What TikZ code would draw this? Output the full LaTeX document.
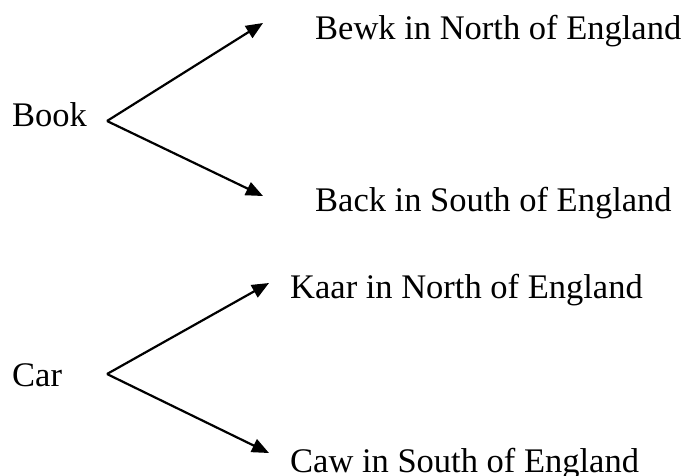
\documentclass[tikz,border=0pt]{standalone}
\usepackage{fontspec}
\setmainfont{Liberation Serif}
\usetikzlibrary{arrows.meta}
\begin{document}
\begin{tikzpicture}[x=1pt,y=-1pt,
  lbl/.style={anchor=base west,inner sep=0pt,font=\fontsize{34.5}{40}\selectfont},
  conn/.style={line width=2.2pt,-{Triangle[length=17pt,width=14pt]}}]
\useasboundingbox (0,0) rectangle (684,475);
\node[lbl] (book) at (12,126) {Book};
\node[lbl] (bewk) at (315,39) {Bewk in North of England};
\node[lbl] (back) at (315,211) {Back in South of England};
\node[lbl] (car) at (12,386) {Car};
\node[lbl] (kaar) at (290,298) {Kaar in North of England};
\node[lbl] (caw) at (290,472) {Caw in South of England};
\coordinate (bo) at (107,121);
\coordinate (bn) at (263,23);
\coordinate (bs) at (263,196);
\coordinate (co) at (107,374);
\coordinate (cn) at (269,283);
\coordinate (cs) at (269,453);
\draw[conn] (bo) -- (bn);
\draw[conn] (bo) -- (bs);
\draw[conn] (co) -- (cn);
\draw[conn] (co) -- (cs);
\end{tikzpicture}
\end{document}
